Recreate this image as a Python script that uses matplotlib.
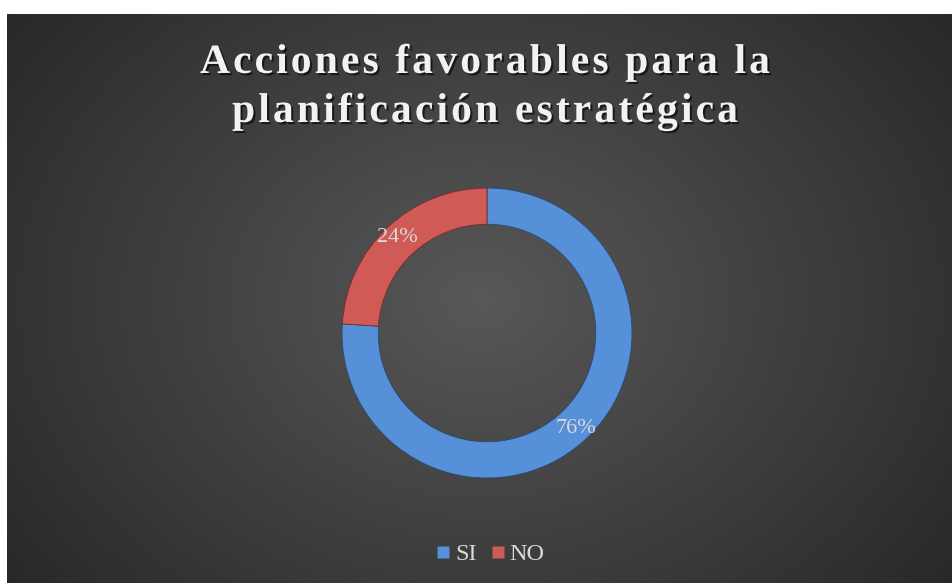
import numpy as np
import matplotlib
matplotlib.use("Agg")
import matplotlib.pyplot as plt
import matplotlib.patheffects as pe
from matplotlib.lines import Line2D

# datos
categorias = ["SI", "NO"]
valores = [76, 24]
colores = ["#5590d8", "#d05a55"]
titulo = ["Acciones favorables para la", "planificación estratégica"]

W, H = 953, 583
fig = plt.figure(figsize=(W / 100, H / 100), dpi=100)
fig.patch.set_facecolor("white")

# fondo oscuro con degradado radial
bg = fig.add_axes([7 / W, 0, (W - 8) / W, (H - 14) / H])
bg.set_axis_off()
yy, xx = np.mgrid[0:300, 0:500]
cx, cy = 250, 150
d = np.sqrt(((xx - cx) / 330.0) ** 2 + ((yy - cy) / 260.0) ** 2)
d = np.clip(d, 0, 1)
c0 = np.array([0x58, 0x58, 0x58]) / 255
c1 = np.array([0x26, 0x26, 0x26]) / 255
img = c0[None, None, :] * (1 - d[..., None]) + c1[None, None, :] * d[..., None]
bg.imshow(img, aspect="auto", extent=[0, 1, 0, 1], interpolation="bilinear")
bg.set_xlim(0, 1)
bg.set_ylim(0, 1)

# dona
cxp, cyp, R = 487, 583 - 333, 145
ax = fig.add_axes([(cxp - R) / W, (cyp - R) / H, 2 * R / W, 2 * R / H])
ax.set_axis_off()
wedges, txts, pcts = ax.pie(
    valores, colors=colores, startangle=90, counterclock=False,
    radius=1, autopct="%1.0f%%", pctdistance=0.9,
    wedgeprops=dict(width=0.25, edgecolor="#2a4a70", linewidth=0.6),
    textprops=dict(color="#d9d9d9", fontsize=16, family="Liberation Serif"))
wedges[1].set_edgecolor("#7a2a28")
ax.set_xlim(-1, 1)
ax.set_ylim(-1, 1)
ax.set_aspect("equal")

# titulo con espaciado entre letras
font = dict(family="Liberation Serif", weight="bold", fontsize=30)
renderer = fig.canvas.get_renderer()


def ancho(s):
    t = fig.text(0, 0, s, **font)
    w = t.get_window_extent(renderer).width
    t.remove()
    return w


base = ancho("aa")
sombra = [pe.withSimplePatchShadow(offset=(1.5, -1.5), shadow_rgbFace="black", alpha=0.6)]
for linea, yb, wt in zip(titulo, [H - 73, H - 122], [570, 506]):
    adv = [ancho("a" + ch + "a") - base for ch in linea]
    sp = (wt - sum(adv)) / (len(linea) - 1)
    x = 485 - wt / 2
    for ch, a in zip(linea, adv):
        fig.text(x / W, yb / H, ch, color="#f2f2f2", ha="left", va="baseline",
                 path_effects=sombra, **font)
        x += a + sp

# leyenda
handles = [Line2D([], [], marker="s", linestyle="", markersize=8.5,
                  markerfacecolor=c, markeredgecolor="none") for c in colores]
fig.legend(handles, categorias, loc="center", bbox_to_anchor=(491 / W, 29 / H),
           ncol=2, frameon=False, handlelength=0.5, handletextpad=0.25,
           columnspacing=0.6,
           prop=dict(family="Liberation Serif", size=17.5), labelcolor="#d9d9d9")

fig.savefig("out.png", dpi=100)
